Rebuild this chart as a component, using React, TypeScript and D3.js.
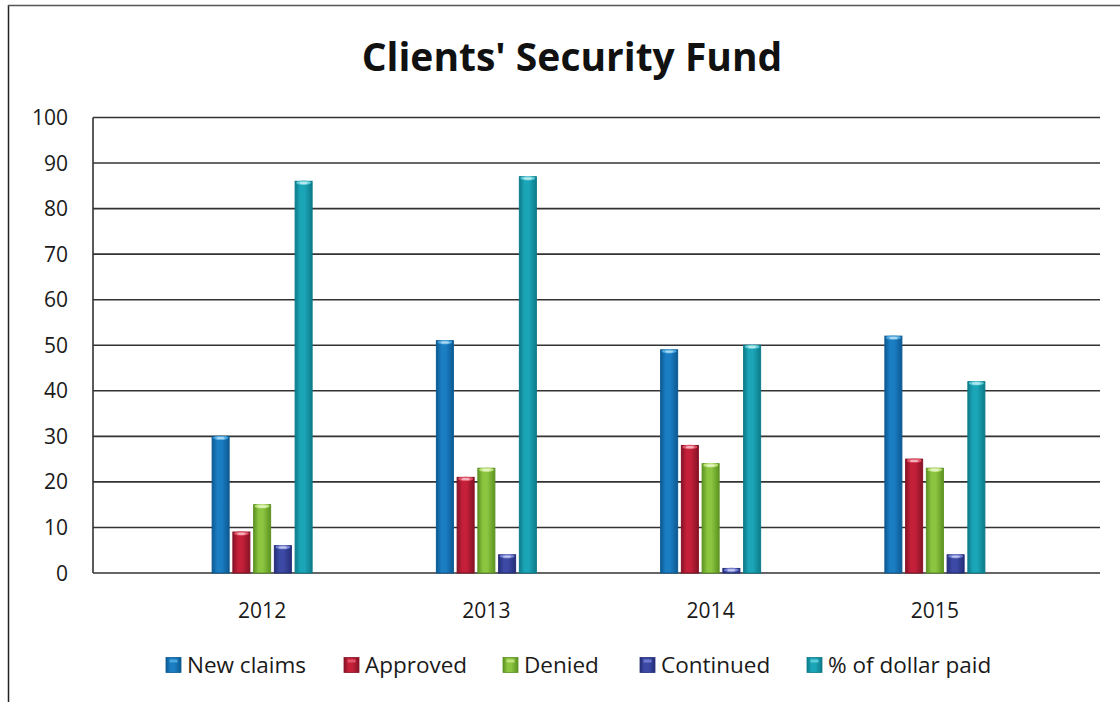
import React from "react";
import * as d3 from "d3";

const categories = ["2012", "2013", "2014", "2015"];
const seriesNames = ["New claims", "Approved", "Denied", "Continued", "% of dollar paid"];
const newClaims = [30, 51, 49, 52];
const approved = [9, 21, 28, 25];
const denied = [15, 23, 24, 23];
const continued = [6, 4, 1, 4];
const dollarPaid = [86, 87, 50, 42];
const yTicks = [0, 10, 20, 30, 40, 50, 60, 70, 80, 90, 100];

const seriesValues = [newClaims, approved, denied, continued, dollarPaid];
const colors = [
  { base: "#1b7ec3", dark: "#0c5a92", light: "#4aa6de" },
  { base: "#c42039", dark: "#861326", light: "#e25268" },
  { base: "#8cc540", dark: "#5c9322", light: "#bde27a" },
  { base: "#3d4aa5", dark: "#252e78", light: "#6f7bd0" },
  { base: "#1ba6b8", dark: "#0d7b8a", light: "#5ccbd8" },
];

const W = 1120;
const H = 702;
const plotLeft = 93;
const plotRight = 1100;
const plotTop = 117.5;
const plotBottom = 573;
const font = "'Open Sans', 'Noto Sans', sans-serif";

export default function App() {
  const y = d3.scaleLinear().domain([0, 100]).range([plotBottom, plotTop]);
  const x0 = d3.scaleBand<string>().domain(categories).range([150, 1047]).padding(0);
  const x1 = d3.scaleBand<string>().domain(seriesNames).range([-50, 50]).paddingInner(0.18).paddingOuter(0);
  const bw = x1.bandwidth();

  const legendX = [166, 344, 503, 640, 807];

  return (
    <svg width={W} height={H} style={{ position: "absolute", left: 0, top: 0, background: "#fff" }}>
      <defs>
        {colors.map((c, i) => (
          <linearGradient key={i} id={`g${i}`} x1="0" x2="1" y1="0" y2="0">
            <stop offset="0%" stopColor={c.dark} />
            <stop offset="30%" stopColor={c.base} />
            <stop offset="55%" stopColor={c.base} />
            <stop offset="100%" stopColor={c.dark} />
          </linearGradient>
        ))}
      </defs>
      <rect x={0} y={0} width={W} height={H} fill="#fff" />
      {/* outer frame */}
      <line x1={8.5} y1={5} x2={8.5} y2={H} stroke="#222" strokeWidth={1.5} />
      <line x1={8} y1={5.5} x2={W} y2={5.5} stroke="#555" strokeWidth={1.5} />

      <text x={572} y={71} textAnchor="middle" fontFamily={font} fontWeight="bold" fontSize={39} fill="#111">
        Clients' Security Fund
      </text>

      {/* gridlines */}
      {yTicks.map((t) => (
        <g key={t}>
          <line x1={plotLeft} x2={plotRight} y1={y(t)} y2={y(t)} stroke="#333" strokeWidth={1.6} />
          <text x={68} y={y(t)} dy="0.36em" textAnchor="end" fontFamily={font} fontSize={21} fill="#1a1a1a">
            {t}
          </text>
        </g>
      ))}
      <line x1={plotLeft} x2={plotLeft} y1={plotTop} y2={plotBottom} stroke="#333" strokeWidth={1.6} />

      {/* bars */}
      {categories.map((cat, ci) => {
        const cx = (x0(cat) ?? 0) + x0.bandwidth() / 2;
        return (
          <g key={cat}>
            {seriesNames.map((s, si) => {
              const v = seriesValues[si][ci];
              const bx = cx + (x1(s) ?? 0);
              const top = y(v);
              const c = colors[si];
              return (
                <g key={s}>
                  <rect x={bx} y={top} width={bw} height={plotBottom - top} fill={`url(#g${si})`} stroke={c.dark} strokeWidth={1} />
                  <ellipse cx={bx + bw / 2} cy={top + 1.5} rx={bw / 2 - 1} ry={2.2} fill={c.light} />
                  <ellipse cx={bx + bw / 2} cy={top + 1.8} rx={bw / 4} ry={1.2} fill="#ffffff" opacity={0.55} />
                </g>
              );
            })}
            <text x={cx} y={610} dy="0.36em" textAnchor="middle" fontFamily={font} fontSize={21} fill="#1a1a1a">
              {cat}
            </text>
          </g>
        );
      })}

      {/* legend */}
      {seriesNames.map((s, si) => (
        <g key={s} transform={`translate(${legendX[si]},665)`}>
          <rect x={0} y={-7.5} width={15} height={15} fill={`url(#g${si})`} stroke={colors[si].dark} strokeWidth={0.8} />
          <rect x={3.5} y={-5.5} width={8} height={3} fill={colors[si].light} />
          <text x={21} y={0} dy="0.36em" fontFamily={font} fontSize={22.5} fill="#1a1a1a">
            {s}
          </text>
        </g>
      ))}
    </svg>
  );
}
